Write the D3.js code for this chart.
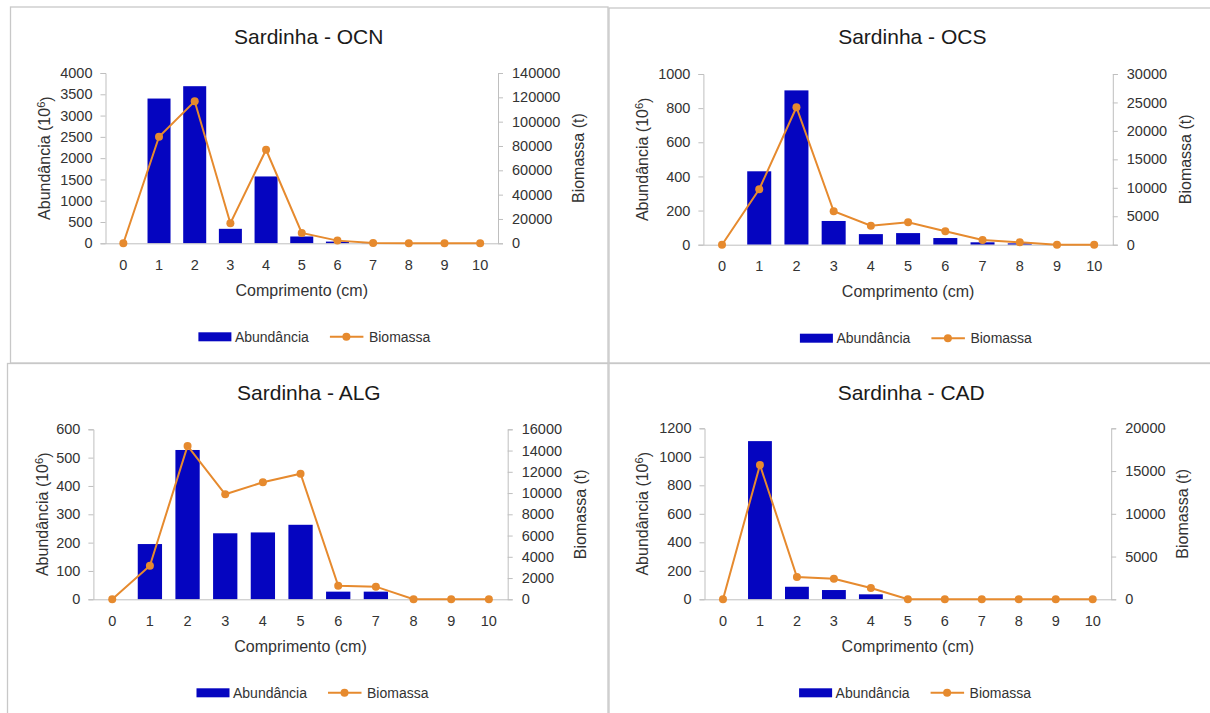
<!DOCTYPE html>
<html>
<head>
<meta charset="utf-8">
<script src="https://cdn.jsdelivr.net/npm/d3@7"></script>
<style>
  body { margin: 0; background: #fff; }
  svg { display: block; font-family: "Liberation Sans", Arial, sans-serif; }
  .tick text { fill: #333; font-size: 14.5px; }
  .axis-title { fill: #333; font-size: 16px; }
  .chart-title { fill: #1a1a1a; font-size: 21px; }
  .legend text { fill: #333; font-size: 14px; }
</style>
</head>
<body>
<svg width="1210" height="713"></svg>
<script>
// categorias (comprimento, cm)
const comprimento = [0, 1, 2, 3, 4, 5, 6, 7, 8, 9, 10];

// Sardinha - OCN
const abundOCN = [0, 3400, 3690, 340, 1570, 160, 40, 6, 0, 0, 0];
const bioOCN = [0, 87600, 116700, 16500, 76900, 8500, 2200, 200, 0, 0, 0];
const ticksAbundOCN = [0, 500, 1000, 1500, 2000, 2500, 3000, 3500, 4000];
const ticksBioOCN = [0, 20000, 40000, 60000, 80000, 100000, 120000, 140000];

// Sardinha - OCS
const abundOCS = [0, 430, 904, 139, 62, 68, 39, 14, 8, 2, 0];
const bioOCS = [0, 9740, 24150, 5870, 3340, 3940, 2350, 830, 420, 0, 0];
const ticksAbundOCS = [0, 200, 400, 600, 800, 1000];
const ticksBioOCS = [0, 5000, 10000, 15000, 20000, 25000, 30000];

// Sardinha - ALG
const abundALG = [0, 195, 527, 233, 236, 263, 27, 27, 0, 0, 0];
const bioALG = [0, 3160, 14430, 9880, 11010, 11820, 1280, 1190, 0, 0, 0];
const ticksAbundALG = [0, 100, 200, 300, 400, 500, 600];
const ticksBioALG = [0, 2000, 4000, 6000, 8000, 10000, 12000, 14000, 16000];

// Sardinha - CAD
const abundCAD = [0, 1110, 88, 65, 35, 0, 0, 0, 0, 0, 0];
const bioCAD = [0, 15710, 2610, 2410, 1320, 0, 0, 0, 0, 0, 0];
const ticksAbundCAD = [0, 200, 400, 600, 800, 1000, 1200];
const ticksBioCAD = [0, 5000, 10000, 15000, 20000];

const titles = ["Sardinha - OCN", "Sardinha - OCS", "Sardinha - ALG", "Sardinha - CAD"];

const blue = "#0505c0";
const orange = "#e68a2e";
const axisGrey = "#bfbfbf";

// posição de cada painel no ecrã
const panels = [
    { title: titles[0], abund: abundOCN, bio: bioOCN, tA: ticksAbundOCN, tB: ticksBioOCN,
      frame: [10.5, 7, 608, 363], left: 105.5, right: 498, top: 73, bottom: 243.3,
      titleX: 308.7, titleY: 37, yTitleL: 44, yTitleR: 578, legendX: 198.4 },
    { title: titles[1], abund: abundOCS, bio: bioOCS, tA: ticksAbundOCS, tB: ticksBioOCS,
      frame: [609, 8, 1212, 363], left: 703.4, right: 1112.8, top: 74, bottom: 244.7,
      titleX: 912.3, titleY: 37, yTitleL: 642, yTitleR: 1185, legendX: 799.9 },
    { title: titles[2], abund: abundALG, bio: bioALG, tA: ticksAbundALG, tB: ticksBioALG,
      frame: [7.5, 363.5, 608, 720], left: 93.4, right: 507.7, top: 429.3, bottom: 599.3,
      titleX: 308.9, titleY: 392.3, yTitleL: 42.4, yTitleR: 580.2, legendX: 196.5 },
    { title: titles[3], abund: abundCAD, bio: bioCAD, tA: ticksAbundCAD, tB: ticksBioCAD,
      frame: [609, 363.5, 1212, 720], left: 704.5, right: 1111.2, top: 428.3, bottom: 599.3,
      titleX: 911.2, titleY: 392.3, yTitleL: 642.6, yTitleR: 1182.8, legendX: 799.1 }
];

const svg = d3.select("svg");
svg.append("rect").attr("width", 1210).attr("height", 713).attr("fill", "#fff");

panels.forEach(p => {
    const g = svg.append("g");

    // moldura
    g.append("rect")
        .attr("x", p.frame[0]).attr("y", p.frame[1])
        .attr("width", p.frame[2] - p.frame[0]).attr("height", p.frame[3] - p.frame[1])
        .attr("fill", "none").attr("stroke", "#c8c8c8").attr("stroke-width", 1.3);

    const x = d3.scaleBand()
        .domain(comprimento)
        .range([p.left, p.right])
        .paddingInner(0.355)
        .paddingOuter(0.1775);

    const yA = d3.scaleLinear()
        .domain([0, d3.max(p.tA)])
        .range([p.bottom, p.top]);

    const yB = d3.scaleLinear()
        .domain([0, d3.max(p.tB)])
        .range([p.bottom, p.top]);

    // barras
    g.selectAll(".bar")
        .data(comprimento)
        .enter().append("rect")
        .attr("class", "bar")
        .attr("x", d => x(d))
        .attr("width", x.bandwidth())
        .attr("y", (d, i) => yA(p.abund[i]))
        .attr("height", (d, i) => p.bottom - yA(p.abund[i]))
        .attr("fill", blue);

    // eixo esquerdo
    const axL = g.append("g")
        .attr("transform", `translate(${p.left},0)`)
        .call(d3.axisLeft(yA).tickValues(p.tA).tickFormat(d3.format("d")).tickSize(5).tickPadding(8));
    axL.selectAll("path, line").attr("stroke", axisGrey);

    // eixo direito
    const axR = g.append("g")
        .attr("transform", `translate(${p.right},0)`)
        .call(d3.axisRight(yB).tickValues(p.tB).tickFormat(d3.format("d")).tickSize(5).tickPadding(9));
    axR.selectAll("path, line").attr("stroke", axisGrey);

    // eixo x
    const axX = g.append("g")
        .attr("transform", `translate(0,${p.bottom})`)
        .call(d3.axisBottom(x).tickSize(0).tickPadding(15).tickSizeOuter(0));
    axX.select("path").attr("stroke", axisGrey);
    axX.selectAll("text").attr("dy", "0.32em").attr("y", 22);

    // linha de biomassa
    const line = d3.line()
        .x((d, i) => x(comprimento[i]) + x.bandwidth() / 2)
        .y(d => yB(d));

    g.append("path")
        .datum(p.bio)
        .attr("d", line)
        .attr("fill", "none")
        .attr("stroke", orange)
        .attr("stroke-width", 2);

    g.selectAll(".dot")
        .data(p.bio)
        .enter().append("circle")
        .attr("class", "dot")
        .attr("cx", (d, i) => x(comprimento[i]) + x.bandwidth() / 2)
        .attr("cy", d => yB(d))
        .attr("r", 4)
        .attr("fill", orange);

    // títulos
    g.append("text")
        .attr("class", "chart-title")
        .attr("x", p.titleX).attr("y", p.titleY)
        .attr("text-anchor", "middle").attr("dy", "0.35em")
        .text(p.title);

    g.append("text")
        .attr("class", "axis-title")
        .attr("x", (p.left + p.right) / 2).attr("y", p.bottom + 47)
        .attr("text-anchor", "middle").attr("dy", "0.35em")
        .text("Comprimento (cm)");

    const midY = (p.top + p.bottom) / 2;
    const tl = g.append("text")
        .attr("class", "axis-title")
        .attr("transform", `translate(${p.yTitleL},${midY}) rotate(-90)`)
        .attr("text-anchor", "middle").attr("dy", "0.35em");
    tl.append("tspan").text("Abundância (10");
    tl.append("tspan").attr("dy", "-0.45em").attr("font-size", "11px").text("6");
    tl.append("tspan").attr("dy", "0.45em").text(")");

    g.append("text")
        .attr("class", "axis-title")
        .attr("transform", `translate(${p.yTitleR},${midY}) rotate(-90)`)
        .attr("text-anchor", "middle").attr("dy", "0.35em")
        .text("Biomassa (t)");

    // legenda
    const ly = p.bottom + 93.5;
    const lg = g.append("g").attr("class", "legend");
    lg.append("rect")
        .attr("x", p.legendX).attr("y", ly - 4.5)
        .attr("width", 33).attr("height", 9)
        .attr("fill", blue);
    lg.append("text")
        .attr("x", p.legendX + 36.5).attr("y", ly).attr("dy", "0.35em")
        .text("Abundância");
    lg.append("line")
        .attr("x1", p.legendX + 131.5).attr("x2", p.legendX + 165)
        .attr("y1", ly).attr("y2", ly)
        .attr("stroke", orange).attr("stroke-width", 2);
    lg.append("circle")
        .attr("cx", p.legendX + 148).attr("cy", ly).attr("r", 4)
        .attr("fill", orange);
    lg.append("text")
        .attr("x", p.legendX + 170.5).attr("y", ly).attr("dy", "0.35em")
        .text("Biomassa");
});
</script>
</body>
</html>
